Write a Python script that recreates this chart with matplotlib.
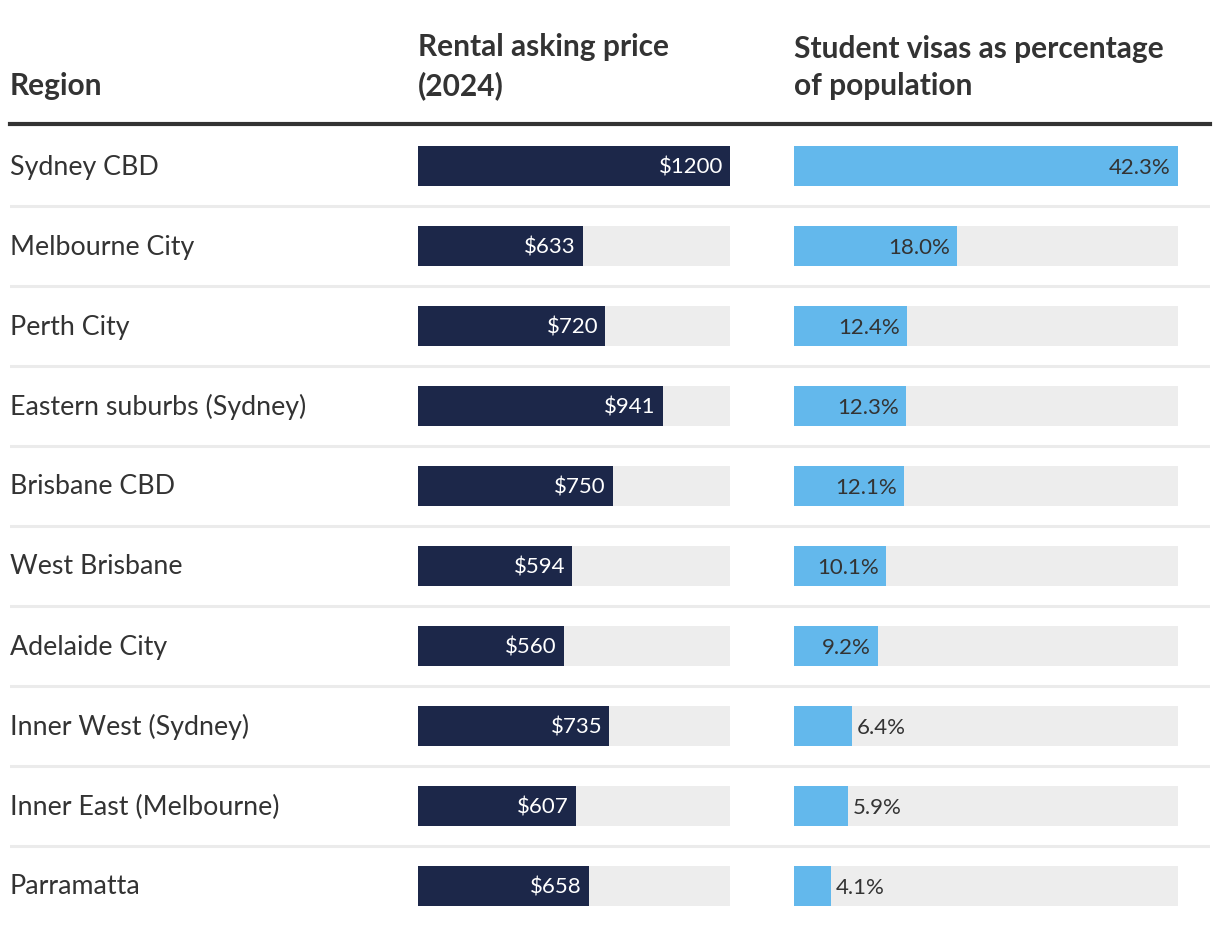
import matplotlib
matplotlib.use("Agg")
import matplotlib.pyplot as plt
from matplotlib.lines import Line2D

# --- data ---
regions = [
    "Sydney CBD", "Melbourne City", "Perth City", "Eastern suburbs (Sydney)",
    "Brisbane CBD", "West Brisbane", "Adelaide City", "Inner West (Sydney)",
    "Inner East (Melbourne)", "Parramatta",
]
rent = [1200, 633, 720, 941, 750, 594, 560, 735, 607, 658]
visa_pct = [42.3, 18.0, 12.4, 12.3, 12.1, 10.1, 9.2, 6.4, 5.9, 4.1]

# --- colors ---
C_NAVY = "#1c2749"
C_BLUE = "#63b8ec"
C_TRACK = "#ededed"
C_TEXT = "#333333"
C_RULE = "#333333"
C_SEP = "#ebebeb"

plt.rcParams["font.family"] = ["Lato", "DejaVu Sans"]

W, H = 1220, 934
fig = plt.figure(figsize=(W / 100, H / 100), dpi=100)
fig.patch.set_facecolor("white")

n = len(regions)
ROW = 80
TOP = 126  # pixel y where the rows start


def px_axes(x0, x1):
    """axes spanning pixel columns x0..x1 over the row area"""
    return fig.add_axes([x0 / W, 1 - (TOP + n * ROW) / H, (x1 - x0) / W, n * ROW / H])


# background axes: separators + region labels
bg = px_axes(10, 1210)
bg.set_xlim(0, 1)
bg.set_ylim(n - 0.5, -0.5)
bg.axis("off")
for i in range(n - 1):
    bg.axhline(i + 0.5, color=C_SEP, lw=2.2, zorder=0)
for i, r in enumerate(regions):
    bg.annotate(r, (0, i), xytext=(0, -1), textcoords="offset pixels",
                ha="left", va="center", fontsize=19.3, color=C_TEXT)

# rental bars
ax1 = px_axes(418, 730)
ax1.set_xlim(0, max(rent))
ax1.set_ylim(n - 0.5, -0.5)
ax1.axis("off")
ys = list(range(n))
ax1.barh(ys, [max(rent)] * n, height=0.5, color=C_TRACK, zorder=1)
ax1.barh(ys, rent, height=0.5, color=C_NAVY, zorder=2)
for y, v in zip(ys, rent):
    ax1.annotate(f"${v}", (v, y), xytext=(-7, -2), textcoords="offset pixels",
                 ha="right", va="center", fontsize=16, color="white", zorder=3)

# student visa bars
ax2 = px_axes(794, 1178)
ax2.set_xlim(0, max(visa_pct))
ax2.set_ylim(n - 0.5, -0.5)
ax2.axis("off")
ax2.barh(ys, [max(visa_pct)] * n, height=0.5, color=C_TRACK, zorder=1)
ax2.barh(ys, visa_pct, height=0.5, color=C_BLUE, zorder=2)
for y, v in zip(ys, visa_pct):
    if v >= 8:
        ax2.annotate(f"{v:.1f}%", (v, y), xytext=(-7, -2), textcoords="offset pixels",
                     ha="right", va="center", fontsize=16, color=C_TEXT, zorder=3)
    else:
        ax2.annotate(f"{v:.1f}%", (v, y), xytext=(5, -2), textcoords="offset pixels",
                     ha="left", va="center", fontsize=16, color=C_TEXT, zorder=3)

# --- header ---
hdr = dict(fontsize=21.5, fontweight="bold", color=C_TEXT, va="baseline", ha="left",
           linespacing=1.4)
fig.text(10 / W, 1 - 95 / H, "Region", **hdr)
fig.text(418 / W, 1 - 95 / H, "Rental asking price\n(2024)", **hdr)
fig.text(794 / W, 1 - 95 / H, "Student visas as percentage\nof population", **hdr)

# thick rule under header
fig.add_artist(Line2D([10 / W, 1210 / W], [1 - 124 / H, 1 - 124 / H],
                      transform=fig.transFigure, color=C_RULE, lw=3))

fig.savefig("out.png", dpi=100, facecolor="white")
